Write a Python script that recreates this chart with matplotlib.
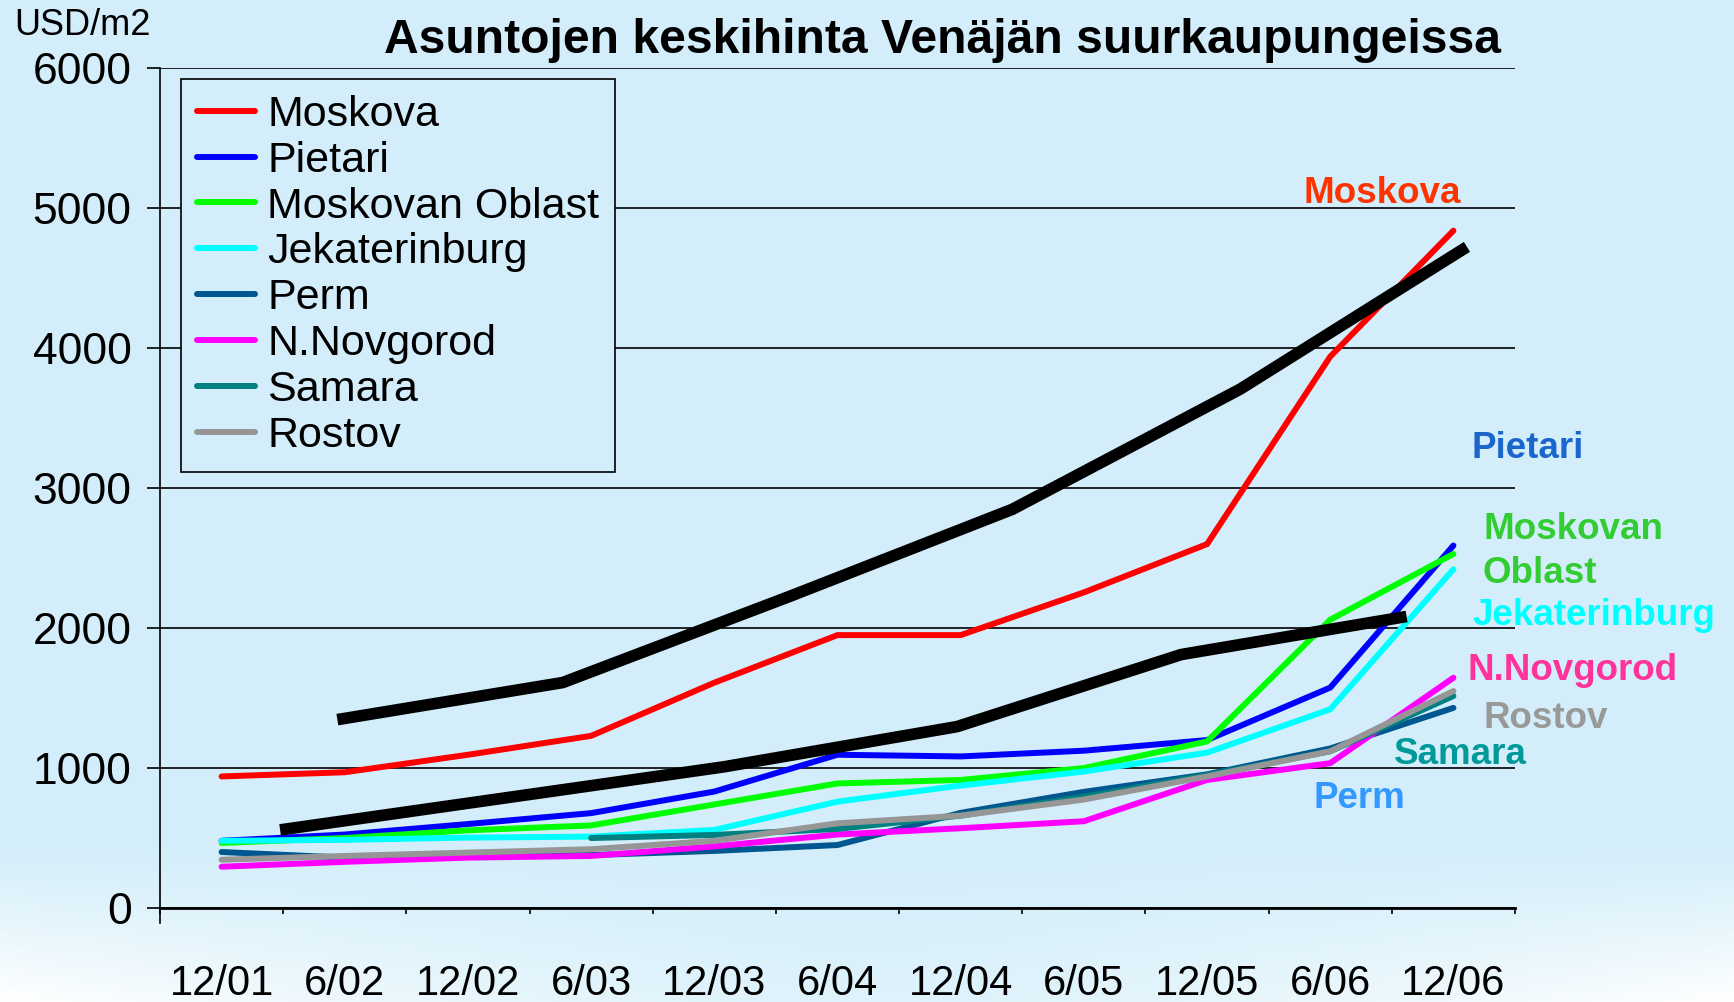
import numpy as np
import matplotlib
matplotlib.use('Agg')
import matplotlib.pyplot as plt

plt.rcParams['font.family'] = ['Liberation Sans', 'DejaVu Sans']

# half-year periods
periods = ['12/01', '6/02', '12/02', '6/03', '12/03', '6/04',
           '12/04', '6/05', '12/05', '6/06', '12/06']

# USD/m2
moskova = [940, 970, 1095, 1230, 1610, 1950, 1950, 2255, 2600, 3940, 4840]
pietari = [480, 525, 600, 678, 832, 1095, 1083, 1124, 1200, 1575, 2590]
moskovan_oblast = [465, 500, 555, 590, 740, 890, 915, 1000, 1190, 2060, 2530]
jekaterinburg = [480, 487, 503, 510, 558, 760, 875, 975, 1110, 1420, 2420]
perm = [400, 360, 368, 378, 408, 450, 680, 830, 955, 1140, 1430]
n_novgorod = [295, 330, 360, 372, 440, 525, 570, 620, 915, 1035, 1645]
samara = [np.nan, np.nan, np.nan, 500, 522, 565, 660, 795, 950, 1120, 1515]
rostov = [345, 372, 396, 420, 480, 605, 660, 775, 940, 1120, 1550]

# hand-drawn black trend lines (x in period units)
trend_upper_x = [0.94, 2.77, 4.61, 6.42, 8.27, 10.11]
trend_upper_y = [1346, 1611, 2226, 2849, 3708, 4724]
trend_lower_x = [0.475, 4.08, 5.97, 7.79, 9.62]
trend_lower_y = [558, 1009, 1296, 1811, 2083]

series = [
    ('Moskova', moskova, '#FF0000'),
    ('Pietari', pietari, '#0000FF'),
    ('Moskovan Oblast', moskovan_oblast, '#00FF00'),
    ('Jekaterinburg', jekaterinburg, '#00FFFF'),
    ('Perm', perm, '#00578F'),
    ('N.Novgorod', n_novgorod, '#FF00FF'),
    ('Samara', samara, '#008080'),
    ('Rostov', rostov, '#969696'),
]

W, H = 1734, 1002
bg = np.array([0xD3, 0xEE, 0xFA]) / 255.0
bg_t = tuple(bg)

fig = plt.figure(figsize=(W / 100, H / 100), dpi=100)
fig.patch.set_facecolor(bg_t)

# background with a light fade at the bottom corners
bax = fig.add_axes([0, 0, 1, 1], zorder=-10)
yy, xx = np.mgrid[0:1:200j, 0:1:400j]
t = np.clip((yy - 0.84) / 0.16, 0, 1) ** 1.2 * (0.25 + 0.75 * (np.abs(xx - 0.5) * 2) ** 1.5)
img = bg[None, None, :] * (1 - t[..., None]) + t[..., None]
bax.imshow(img, aspect='auto', extent=(0, 1, 0, 1))
bax.axis('off')

ax = fig.add_axes([160 / W, 1 - 908 / H, (1515 - 160) / W, (908 - 68.3) / H])
ax.set_facecolor('none')

x = np.arange(len(periods))
for name, vals, col in series:
    ax.plot(x, vals, color=col, lw=4.3, solid_capstyle='round', solid_joinstyle='miter', label=name, zorder=3)

ax.plot(trend_upper_x, trend_upper_y, color='black', lw=8.4, solid_capstyle='butt', zorder=4)
ax.plot(trend_lower_x, trend_lower_y, color='black', lw=8.4, solid_capstyle='butt', zorder=4)

ax.set_xlim(-0.5, 10.5)
ax.set_ylim(0, 6000)
ax.set_yticks(range(0, 6001, 1000))
ax.yaxis.grid(True, color='black', lw=1.2)
ax.set_axisbelow(True)

ax.set_xticks(np.arange(-0.5, 11, 1))
ax.set_xticklabels([])
ax.set_xticks(x, minor=True)
ax.set_xticklabels(periods, minor=True)
ax.tick_params(axis='x', which='major', length=4.5, width=1.2, direction='out')
ax.tick_params(axis='x', which='minor', length=0, pad=40, labelsize=30)
ax.tick_params(axis='y', length=9.4, width=1.2, pad=11, labelsize=32)

for s in ['top', 'right']:
    ax.spines[s].set_visible(False)
ax.spines['left'].set_linewidth(1.2)
ax.spines['left'].set_bounds(-107, 6000)
ax.spines['bottom'].set_linewidth(2)

leg = ax.legend(loc='upper left', bbox_to_anchor=(181 / W, 1 - 79 / H),
                bbox_transform=fig.transFigure, fontsize=31, frameon=True,
                fancybox=False, edgecolor='black', facecolor=bg_t, framealpha=1,
                handlelength=1.35, handletextpad=0.28, labelspacing=0.135,
                borderpad=0.37, borderaxespad=0)
leg.get_frame().set_linewidth(1.2)


def px(xp, yp):
    return xp / W, 1 - yp / H


fig.text(*px(942, 53), 'Asuntojen keskihinta Venäjän suurkaupungeissa',
         ha='center', va='baseline', fontsize=34.6, fontweight='bold')
fig.text(*px(14, 35), 'USD/m2', ha='left', va='baseline', fontsize=26)

# city labels on the right
labels = [
    ('Moskova', 1303, 203, '#FF3300'),
    ('Pietari', 1472, 458, '#1A66CC'),
    ('Moskovan', 1483, 539, '#33CC33'),
    ('Oblast', 1483, 583, '#33CC33'),
    ('Jekaterinburg', 1472, 625, '#00FFFF'),
    ('N.Novgorod', 1468, 680, '#FF3399'),
    ('Rostov', 1483, 728, '#999999'),
    ('Samara', 1394, 764, '#009999'),
    ('Perm', 1313, 808, '#3399FF'),
]
for txt, lx, ly, col in labels:
    fig.text(*px(lx, ly), txt, ha='left', va='baseline', fontsize=26.5,
             fontweight='bold', color=col)

fig.savefig('out.png', dpi=100, facecolor=fig.get_facecolor())
